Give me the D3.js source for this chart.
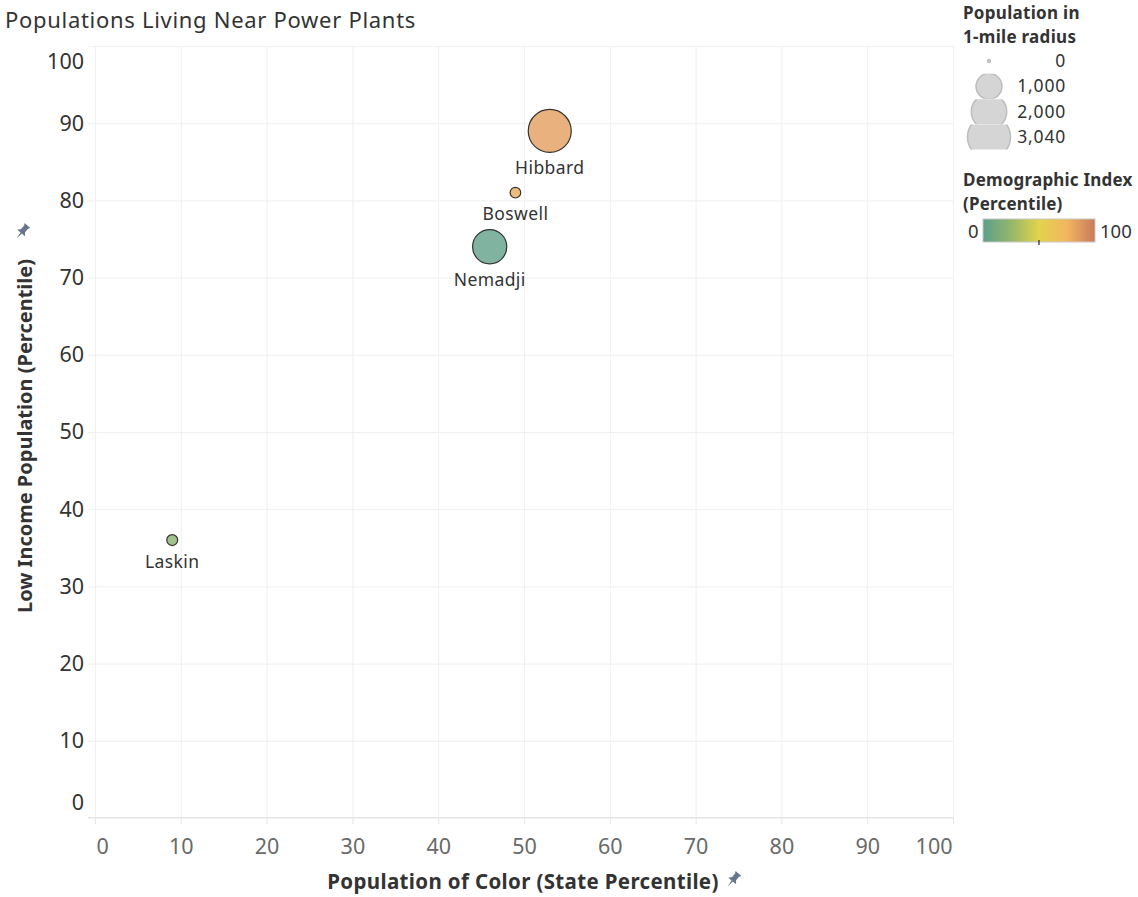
<!DOCTYPE html>
<html>
<head>
<meta charset="utf-8">
<script src="https://cdn.jsdelivr.net/npm/d3@7"></script>
<style>
  body { margin: 0; background: #fff; }
  text { font-family: "Noto Sans", "Open Sans", sans-serif; }
</style>
</head>
<body>
<svg id="chart" width="1138" height="897"></svg>
<script>
// data
const plants = ['Hibbard', 'Boswell', 'Nemadji', 'Laskin']
const popOfColor = [53, 49, 46, 9]        // x, state percentile
const lowIncome = [89, 81, 74, 36]        // y, percentile
const population = [3040, 110, 1850, 120] // people within 1 mile
const demoIndex = [85, 80, 2, 20]         // colour, percentile

const axisTicks = [0, 10, 20, 30, 40, 50, 60, 70, 80, 90, 100]
const sizeLegend = [0, 1000, 2000, 3040]
const colorStops = [0, 25, 50, 75, 100]
const colorRange = ['#5b9f8b', '#94b76a', '#e3d34c', '#f2b65e', '#c9795b']

const svg = d3.select('#chart')

const x = d3.scaleLinear().domain([0, 100]).range([95, 953])
const y = d3.scaleLinear().domain([0, 100]).range([818, 46])
const r = d3.scaleSqrt().domain([0, 3040]).range([1.5, 21.5])
const color = d3.scaleLinear().domain(colorStops).range(colorRange)

// title
svg.append('text')
    .attr('x', 5).attr('y', 28)
    .attr('font-size', 22)
    .attr('letter-spacing', 0.7)
    .attr('fill', '#333')
    .text('Populations Living Near Power Plants')

// grid
const grid = svg.append('g')
grid.selectAll('.hg').data(axisTicks).join('line')
    .attr('x1', 88).attr('x2', 953)
    .attr('y1', d => y(d) + 0.5).attr('y2', d => y(d) + 0.5)
    .attr('stroke', '#efefef')
grid.selectAll('.vg').data(axisTicks).join('line')
    .attr('y1', 46).attr('y2', 818)
    .attr('x1', d => x(d) + 0.5).attr('x2', d => x(d) + 0.5)
    .attr('stroke', '#efefef')

// x axis
const xAxis = svg.append('g')
    .attr('transform', 'translate(0,818)')
    .call(d3.axisBottom(x).tickValues(axisTicks).tickSize(6).tickPadding(10))
xAxis.select('.domain').remove()
xAxis.append('line').attr('x1', 88).attr('x2', 953).attr('y1', -0.5).attr('y2', -0.5)
    .attr('stroke', '#e6e6e6')
xAxis.selectAll('.tick line').attr('stroke', '#e6e6e6')
xAxis.selectAll('.tick text')
    .attr('font-family', '"Noto Sans", sans-serif')
    .attr('font-size', 21.5)
    .attr('fill', '#6a6a6a')
    .attr('dy', '0.92em')
xAxis.selectAll('.tick text').filter(d => d == 0).attr('text-anchor', 'start').attr('x', 1)
xAxis.selectAll('.tick text').filter(d => d == 100).attr('text-anchor', 'end').attr('x', -1)

// y axis
const yAxis = svg.append('g')
    .attr('transform', 'translate(95,0)')
    .call(d3.axisLeft(y).tickValues(axisTicks).tickSize(0).tickPadding(11))
yAxis.select('.domain').remove()
yAxis.selectAll('.tick text')
    .attr('font-family', '"Noto Sans", sans-serif')
    .attr('font-size', 21.5)
    .attr('fill', '#333')
yAxis.selectAll('.tick text').filter(d => d == 0).attr('y', -15)
yAxis.selectAll('.tick text').filter(d => d == 100).attr('y', 16)

// pin icon
function pin(g) {
    g.append('path')
        .attr('d', 'M-4.5,-10 L4.5,-10 L3,-7.5 L3,-2 L6,1.5 L-6,1.5 L-3,-2 L-3,-7.5 Z M-1,1.5 L1,1.5 L0,10 Z')
        .attr('fill', '#66768b')
}

// axis titles
svg.append('text')
    .attr('x', 523).attr('y', 889)
    .attr('text-anchor', 'middle')
    .attr('font-size', 20.5).attr('font-weight', 'bold')
    .attr('letter-spacing', 0.35)
    .attr('fill', '#333')
    .text('Population of Color (State Percentile)')
svg.append('g').attr('transform', 'translate(733,880) rotate(40) scale(0.85)').call(pin)

svg.append('text')
    .attr('transform', 'translate(32,436) rotate(-90)')
    .attr('text-anchor', 'middle')
    .attr('font-size', 20).attr('font-weight', 'bold')
    .attr('fill', '#333')
    .text('Low Income Population (Percentile)')
svg.append('g').attr('transform', 'translate(22,232) rotate(40) scale(0.85)').call(pin)

// marks
const rows = plants.map((p, i) => ({
    name: p, px: popOfColor[i], py: lowIncome[i], pop: population[i], idx: demoIndex[i]
}))

svg.append('g').selectAll('circle')
    .data(rows.slice().sort((a, b) => b.pop - a.pop))
    .join('circle')
    .attr('cx', d => x(d.px))
    .attr('cy', d => y(d.py))
    .attr('r', d => r(d.pop))
    .attr('fill', d => color(d.idx))
    .attr('fill-opacity', 0.8)
    .attr('stroke', '#333')
    .attr('stroke-width', 1.2)

svg.append('g').selectAll('text')
    .data(rows)
    .join('text')
    .attr('x', d => x(d.px))
    .attr('y', d => y(d.py) + r(d.pop) + 22)
    .attr('text-anchor', 'middle')
    .attr('font-size', 17.5)
    .attr('letter-spacing', 0.4)
    .attr('fill', '#333')
    .text(d => d.name)

// size legend
const sl = svg.append('g')
sl.append('text').attr('x', 963).attr('y', 19)
    .attr('font-size', 17).attr('font-weight', 'bold').attr('fill', '#333')
    .attr('letter-spacing', 0.3)
    .text('Population in')
sl.append('text').attr('x', 963).attr('y', 43)
    .attr('font-size', 17).attr('font-weight', 'bold').attr('fill', '#333')
    .attr('letter-spacing', 0.3)
    .text('1-mile radius')

const sy = d3.scalePoint().domain(sizeLegend).range([61, 137])
const defs = svg.append('defs')
sizeLegend.forEach((d, i) => {
    defs.append('clipPath').attr('id', 'sizeclip' + i)
        .append('rect').attr('x', 955).attr('y', sy(d) - 12.5).attr('width', 70).attr('height', 25)
})
sl.selectAll('circle').data(sizeLegend).join('circle')
    .attr('clip-path', (d, i) => 'url(#sizeclip' + i + ')')
    .attr('cx', 989).attr('cy', d => sy(d))
    .attr('r', d => r(d))
    .attr('fill', '#d5d5d5')
    .attr('stroke', '#bdbdbd')
    .attr('stroke-width', 1.5)
sl.selectAll('.lab').data(sizeLegend).join('text')
    .attr('x', 1066).attr('y', d => sy(d) + 6)
    .attr('text-anchor', 'end')
    .attr('font-size', 17.5).attr('letter-spacing', 0.8).attr('fill', '#333')
    .text(d => d3.format(',')(d))

// colour legend
const cl = svg.append('g')
cl.append('text').attr('x', 963).attr('y', 186)
    .attr('font-size', 17).attr('font-weight', 'bold').attr('fill', '#333')
    .attr('letter-spacing', 0.2)
    .text('Demographic Index')
cl.append('text').attr('x', 963).attr('y', 210)
    .attr('font-size', 17).attr('font-weight', 'bold').attr('fill', '#333')
    .attr('letter-spacing', 0.2)
    .text('(Percentile)')

const grad = defs.append('linearGradient')
    .attr('id', 'demoGrad')
    .attr('x1', '0%').attr('x2', '100%').attr('y1', '0%').attr('y2', '0%')
colorStops.forEach(s => {
    grad.append('stop').attr('offset', s + '%').style('stop-color', color(s))
})
const lx = d3.scaleLinear().domain([0, 100]).range([983, 1095])
cl.append('rect')
    .attr('x', lx(0)).attr('y', 219)
    .attr('width', lx(100) - lx(0)).attr('height', 23)
    .attr('fill', 'url(#demoGrad)')
    .attr('stroke', '#c8c8c8')
cl.append('line')
    .attr('x1', lx(50)).attr('x2', lx(50)).attr('y1', 240).attr('y2', 245)
    .attr('stroke', '#222').attr('stroke-width', 1.2)
cl.append('text').attr('x', 968).attr('y', 238)
    .attr('font-size', 18.5).attr('fill', '#333').text('0')
cl.append('text').attr('x', 1100).attr('y', 238)
    .attr('font-size', 18.5).attr('fill', '#333').text('100')
</script>
</body>
</html>
